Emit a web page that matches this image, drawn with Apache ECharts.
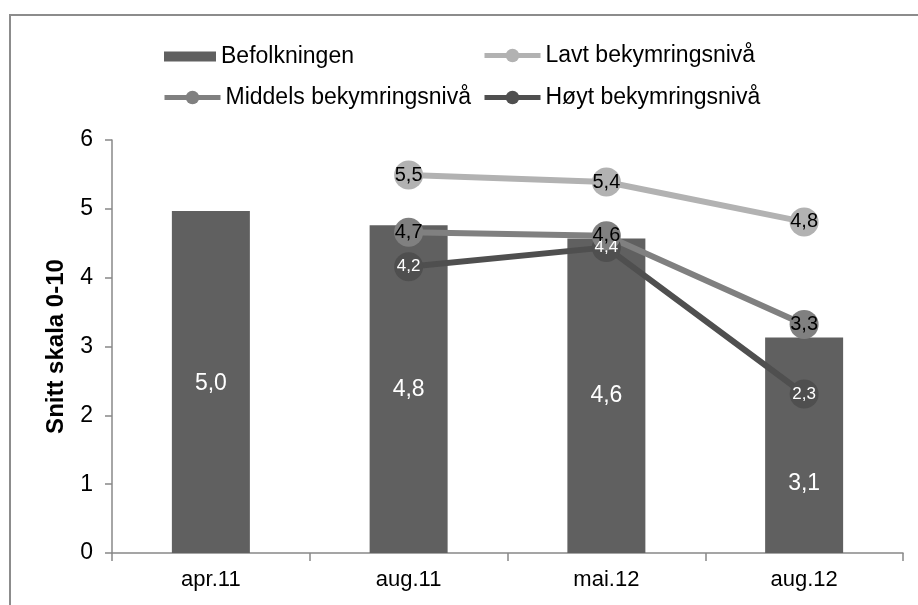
<!DOCTYPE html>
<html>
<head>
<meta charset="utf-8">
<script src="https://cdn.jsdelivr.net/npm/echarts@6/dist/echarts.min.js"></script>
<style>
html,body{margin:0;padding:0;background:#fff;}
#chart{width:918px;height:605px;}
</style>
</head>
<body>
<div id="chart"></div>
<script>
var categories = ['apr.11', 'aug.11', 'mai.12', 'aug.12'];
var befolkningen = [4.97, 4.76, 4.57, 3.13];
var lavt = [null, 5.49, 5.39, 4.81];
var middels = [null, 4.66, 4.61, 3.32];
var hoyt = [null, 4.16, 4.44, 2.31];
var yTicks = [0, 1, 2, 3, 4, 5, 6];

var FONT = '"Liberation Sans", Arial, sans-serif';
var fmt = function (p) { return p.value == null ? '' : Number(p.value).toFixed(1).replace('.', ','); };
var barLabelShift = [2, 0, 0, 38];

var chart = echarts.init(document.getElementById('chart'));

function lineLegend(name, color, left, top) {
  return {
    data: [name], left: left, top: top, itemWidth: 56, itemHeight: 17, itemGap: 0, itemTextGap: 4,
    lineStyle: { width: 5, color: color }, itemStyle: { color: color },
    textStyle: { fontSize: 23, color: '#000', fontFamily: FONT }, selectedMode: false
  };
}

var option = {
  animation: false,
  backgroundColor: '#fff',
  graphic: [{
    type: 'rect', shape: { x: 10, y: 15, width: 1000, height: 1000 },
    style: { fill: 'none', stroke: '#8c8c8c', lineWidth: 2 }, z: -10
  }],
  legend: [
    { data: [{ name: 'Befolkningen', icon: 'rect' }], left: 159, top: 40, itemWidth: 52, itemHeight: 10, itemTextGap: 6,
      textStyle: { fontSize: 23, color: '#000', fontFamily: FONT }, selectedMode: false },
    lineLegend('Lavt bekymringsnivå', '#b2b2b2', 477, 39),
    lineLegend('Middels bekymringsnivå', '#808080', 157, 81),
    lineLegend('Høyt bekymringsnivå', '#4f4f4f', 477, 81)
  ],
  grid: { left: 112, right: 15, top: 140, bottom: 52 },
  xAxis: {
    type: 'category', data: categories,
    axisLine: { lineStyle: { color: '#888', width: 1.5 } },
    axisTick: { show: true, length: 8, lineStyle: { color: '#888', width: 1.5 } },
    axisLabel: { fontSize: 22, color: '#000', fontFamily: FONT, margin: 16 }
  },
  yAxis: {
    type: 'value', min: yTicks[0], max: yTicks[yTicks.length - 1], interval: 1,
    name: 'Snitt skala 0-10', nameLocation: 'middle', nameGap: 44,
    nameTextStyle: { fontSize: 24, fontWeight: 'bold', color: '#000', fontFamily: FONT },
    axisLine: { show: true, lineStyle: { color: '#888', width: 1.5 } },
    axisTick: { show: true, length: 7, lineStyle: { color: '#888', width: 1.5 } },
    splitLine: { show: false },
    axisLabel: { fontSize: 23, color: '#000', fontFamily: FONT, margin: 19 }
  },
  series: [
    {
      name: 'Befolkningen', type: 'bar', barWidth: 78,
      data: befolkningen.map(function (v, i) { return { value: v, label: { offset: [0, barLabelShift[i]] } }; }),
      itemStyle: { color: '#606060' },
      label: { show: true, position: 'inside', color: '#fff', fontSize: 23, fontFamily: FONT, formatter: fmt }
    },
    {
      name: 'Lavt bekymringsnivå', type: 'line', data: lavt,
      symbol: 'circle', symbolSize: 29,
      lineStyle: { color: '#b2b2b2', width: 6 }, itemStyle: { color: '#b2b2b2' },
      label: { show: true, position: 'inside', color: '#000', fontSize: 20, fontFamily: FONT, formatter: fmt }
    },
    {
      name: 'Høyt bekymringsnivå', type: 'line', data: hoyt,
      symbol: 'circle', symbolSize: 29,
      lineStyle: { color: '#4f4f4f', width: 6 }, itemStyle: { color: '#4f4f4f' },
      label: { show: true, position: 'inside', color: '#fff', fontSize: 17, fontFamily: FONT, formatter: fmt }
    },
    {
      name: 'Middels bekymringsnivå', type: 'line', data: middels,
      symbol: 'circle', symbolSize: 29,
      lineStyle: { color: '#808080', width: 6 }, itemStyle: { color: '#808080' },
      label: { show: true, position: 'inside', color: '#000', fontSize: 20, fontFamily: FONT, formatter: fmt }
    }
  ]
};
chart.setOption(option);
</script>
</body>
</html>
